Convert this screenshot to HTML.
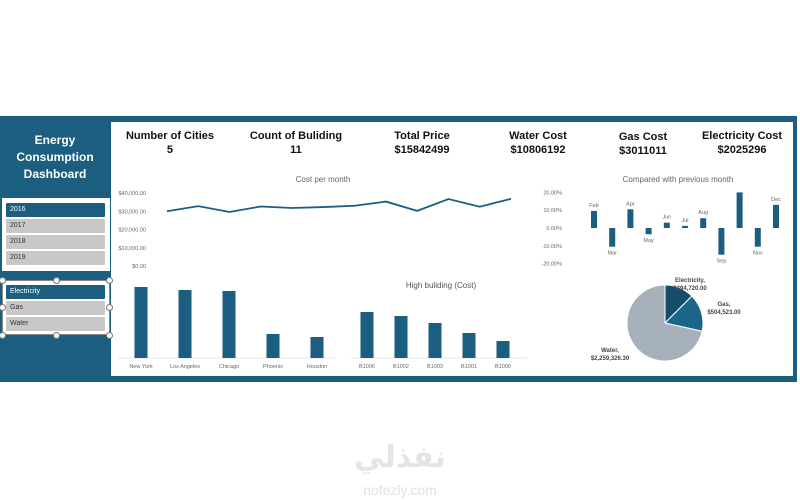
<!DOCTYPE html>
<html><head><meta charset="utf-8">
<style>
body{margin:0;width:800px;height:500px;background:#fff;position:relative;overflow:hidden;font-family:"Liberation Sans",sans-serif}
.abs{position:absolute}
.kpi{position:absolute;text-align:center;font-weight:bold;color:#111;font-size:11px;line-height:14px;transform:translateX(-50%);white-space:nowrap}
.btn{position:absolute;left:6px;width:99px;height:14px;font-size:7px;line-height:14px;padding-left:4px;box-sizing:border-box;border-radius:1px}
.sel{background:#1b5e80;color:#fff}
.un{background:#c8c8c8;color:#333}
.h{position:absolute;width:5px;height:5px;border:1px solid #777;border-radius:50%;background:#fff}
</style></head><body>
<div class="abs" style="left:0;top:116px;width:797px;height:266px;background:#1b5e80"></div>
<div class="abs" style="left:111px;top:122px;width:682px;height:254px;background:#fff"></div>
<div class="abs" style="left:0;top:132px;width:110px;text-align:center;color:#fff;font-weight:bold;font-size:12px;line-height:17px">Energy<br>Consumption<br>Dashboard</div>

<div class="abs" style="left:2px;top:198px;width:108px;height:73px;background:#fff"></div>
<div class="btn sel" style="top:203px">2016</div>
<div class="btn un" style="top:219px">2017</div>
<div class="btn un" style="top:235px">2018</div>
<div class="btn un" style="top:251px">2019</div>

<div class="abs" style="left:2px;top:280px;width:108px;height:55px;background:#fff;border:1px solid #888;box-sizing:border-box"></div>
<div class="btn sel" style="top:285px">Electricity</div>
<div class="btn un" style="top:301px">Gas</div>
<div class="btn un" style="top:317px">Water</div>
<div class="h" style="left:-1px;top:277px"></div>
<div class="h" style="left:53px;top:277px"></div>
<div class="h" style="left:106px;top:277px"></div>
<div class="h" style="left:-1px;top:304px"></div>
<div class="h" style="left:106px;top:304px"></div>
<div class="h" style="left:-1px;top:332px"></div>
<div class="h" style="left:53px;top:332px"></div>
<div class="h" style="left:106px;top:332px"></div>

<div class="kpi" style="left:170px;top:129px">Number of Cities<br>5</div>
<div class="kpi" style="left:296px;top:129px">Count of Buliding<br>11</div>
<div class="kpi" style="left:422px;top:129px">Total Price<br>$15842499</div>
<div class="kpi" style="left:538px;top:129px">Water Cost<br>$10806192</div>
<div class="kpi" style="left:643px;top:130px">Gas Cost<br>$3011011</div>
<div class="kpi" style="left:742px;top:129px">Electricity Cost<br>$2025296</div>

<svg id="s" class="abs" style="left:0;top:0" width="800" height="500"></svg>

<div class="abs" style="left:300px;top:440px;width:200px;text-align:center;font-family:'DejaVu Sans',sans-serif;font-size:30px;font-weight:bold;color:#e4e4e4">نفذلي</div>
<div class="abs" style="left:300px;top:482px;width:200px;text-align:center;font-size:14px;color:#e0e0e0">nofezly.com</div>

<script>
const months=["Jan","Feb","Mar","Apr","May","Jun","Jul","Aug","Sep","Oct","Nov","Dec"];
const monthCost=[30000,32800,29600,32600,31800,32300,33000,35300,30200,36700,32500,36800];
const costTicks=[0,10000,20000,30000,40000];
const changeMonths=["Feb","Mar","Apr","May","Jun","Jul","Aug","Sep","Oct","Nov","Dec"];
const changeLabels=["Feb","Mar","Apr","May","Jun","Jul","Aug","Sep","","Nov","Dec"];
const changeVals=[9.6,-10.5,10.5,-3.5,3,1.2,5.5,-15,20,-10.5,13];
const changeTicks=[20,10,0,-10,-20];
const cities=["New York","Los Angeles","Chicago","Phoenix","Houston"];
const cityVals=[710,680,670,240,210];
const buildings=["B1006","B1002","B1003","B1001","B1000"];
const buildingVals=[460,420,350,250,170];
const pieCats=["Electricity","Gas","Water"];
const pieVals=[394720,504523,2259326.30];
const pieText=["$394,720.00","$504,523.00","$2,259,326.30"];

const S=document.getElementById('s'),NS="http://www.w3.org/2000/svg";
function mk(t,a,txt){const e=document.createElementNS(NS,t);for(const k in a)e.setAttribute(k,a[k]);if(txt!=null)e.textContent=txt;S.appendChild(e);return e;}
const blue="#1b5e80";
// line chart
const lx=i=>167+i*(511-167)/(monthCost.length-1), ly=v=>266-v*73/40000;
let e=mk('text',{x:323,y:182,'font-size':8,fill:'#666','text-anchor':'middle'},'Cost per month');

costTicks.forEach(t=>{const e=mk('text',{x:146,y:ly(t)+2,'font-size':5.5,fill:'#666','text-anchor':'end'},'$'+t.toLocaleString('en-US')+'.00');
});
e=mk('polyline',{points:monthCost.map((v,i)=>lx(i)+','+ly(v)).join(' '),fill:'none',stroke:blue,'stroke-width':1.8});

// change chart
const cx=i=>594+i*(776-594)/(changeVals.length-1), cy=v=>228-v*1.78;
e=mk('text',{x:678,y:182,'font-size':8,fill:'#666','text-anchor':'middle'},'Compared with previous month');

changeTicks.forEach(t=>{const e=mk('text',{x:562,y:cy(t)+2,'font-size':5.5,fill:'#666','text-anchor':'end'},t.toFixed(2)+'%');
});
changeVals.forEach((v,i)=>{const y0=cy(0),y1=cy(v);
const b=mk('rect',{x:cx(i)-3,y:Math.min(y0,y1),width:6,height:Math.abs(y1-y0),fill:blue});

if(changeLabels[i]){const l=mk('text',{x:cx(i),y:v>=0?y1-4:y1+8,'font-size':5.5,fill:'#666','text-anchor':'middle'},changeLabels[i]);
}});
// bar charts
function bars(cats,vals,x0,step,base,scale,axis,name){
e=mk('line',{x1:axis[0],x2:axis[1],y1:base,y2:base,stroke:'#ddd','stroke-width':0.8});

vals.forEach((v,i)=>{const x=x0+i*step,h=v*scale;
const b=mk('rect',{x:x-6.5,y:base-h,width:13,height:h,fill:blue});

const l=mk('text',{x:x,y:base+10,'font-size':5.5,fill:'#666','text-anchor':'middle'},cats[i]);
});}
bars(cities,cityVals,141,44,358,0.1,[118,335],'city');
bars(buildings,buildingVals,367,34,358,0.1,[351,527],'building');
e=mk('text',{x:441,y:288,'font-size':8,fill:'#555','text-anchor':'middle'},'High buliding (Cost)');

// pie
const pcx=665,pcy=323,r=38,cols=["#144d6a","#1b6688","#a6b1bb"];
const tot=pieVals.reduce((a,b)=>a+b,0);let a0=-Math.PI/2;
pieVals.forEach((v,i)=>{const a1=a0+v/tot*2*Math.PI;
const x0=pcx+r*Math.cos(a0),y0=pcy+r*Math.sin(a0),x1=pcx+r*Math.cos(a1),y1=pcy+r*Math.sin(a1);
const p=mk('path',{d:`M${pcx},${pcy}L${x0},${y0}A${r},${r} 0 ${a1-a0>Math.PI?1:0} 1 ${x1},${y1}Z`,fill:cols[i],stroke:'#fff','stroke-width':1});
a0=a1;});
const lp=[[690,282],[724,306],[610,352]];
pieCats.forEach((c,i)=>{const t=mk('text',{x:lp[i][0],y:lp[i][1],'font-size':6,'font-weight':'bold',fill:'#444','text-anchor':'middle'});

const a=document.createElementNS(NS,'tspan');a.setAttribute('x',lp[i][0]);a.textContent=c+',';t.appendChild(a);
const b=document.createElementNS(NS,'tspan');b.setAttribute('x',lp[i][0]);b.setAttribute('dy',8);b.textContent=pieText[i];t.appendChild(b);});
</script>
</body></html>
